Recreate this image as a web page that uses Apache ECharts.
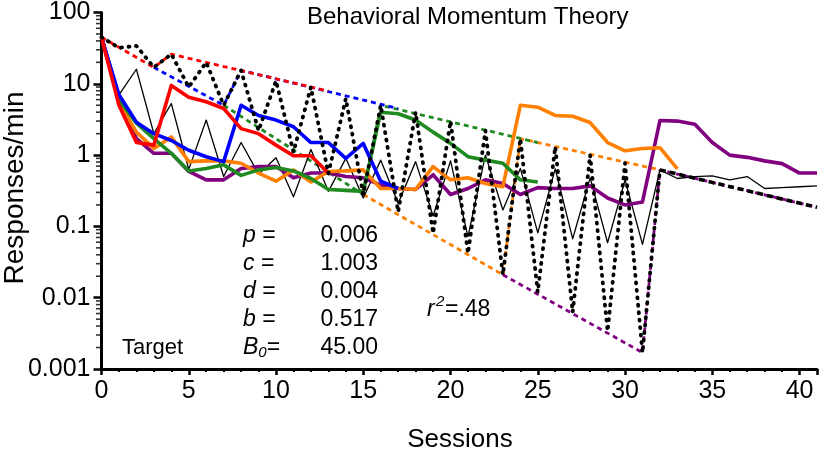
<!DOCTYPE html>
<html><head><meta charset="utf-8">
<script src="https://cdn.jsdelivr.net/npm/echarts@6/dist/echarts.min.js"></script>
<style>html,body{margin:0;padding:0;background:#fff}#c{width:820px;height:453px}</style>
</head><body><div id="c"></div>
<script>
// ---- data (index = session) ----
const xTickLabels = ['0','5','10','15','20','25','30','35','40'];
const yTickLabels = ['0.001','0.01','0.1','1','10','100'];
const yMinorTickValues = [0.002,0.003,0.004,0.005,0.006,0.007,0.008,0.009,
  0.02,0.03,0.04,0.05,0.06,0.07,0.08,0.09,0.2,0.3,0.4,0.5,0.6,0.7,0.8,0.9,
  2,3,4,5,6,7,8,9,20,30,40,50,60,70,80,90];

const redValues = [45,5.0,1.5,1.38,9.5,6.5,5.6,4.5,2.35,2.0,1.38,0.98,0.98,0.56];
const blueValues = [45,7.0,2.9,2.0,1.6,1.17,0.95,0.81,5.0,3.6,3.1,2.5,1.5,1.5,0.9,1.46,0.43,0.34];
const greenValues = [45,6.0,2.8,1.7,1.06,0.6,0.65,0.73,0.52,0.62,0.67,0.6,0.47,0.33,0.32,0.31,
  4.0,3.8,3.1,2.1,1.46,0.95,0.85,0.77,0.45,0.42];
const orangeValues = [45,5.5,2.1,1.24,1.8,0.81,0.83,0.83,0.77,0.56,0.43,0.62,0.42,0.59,0.6,0.62,
  0.34,0.34,0.33,0.69,0.45,0.48,0.40,0.36,5.0,4.7,3.6,3.5,2.86,1.5,1.15,1.24,1.27,0.64];
const purpleValues = [45,6.5,1.7,1.06,1.06,0.59,0.45,0.45,0.65,0.69,0.69,0.48,0.56,0.56,0.5,0.48,
  0.38,0.34,0.33,0.53,0.28,0.34,0.45,0.40,0.28,0.35,0.34,0.34,0.37,0.25,0.2,0.22,
  3.05,3.0,2.7,1.5,1.0,0.93,0.83,0.76,0.56,0.56];
const targetValues = [45,7.0,16,2.0,5.3,0.63,3.1,0.5,1.5,0.54,0.92,0.26,1.2,0.31,0.9,0.25,0.85,0.21,
  0.81,0.14,0.83,0.072,1.0,0.17,0.65,0.081,0.64,0.067,0.48,0.059,0.45,0.056,
  0.62,0.47,0.5,0.51,0.45,0.5,0.34,0.35,0.36,0.37];
const modelValues = [45,32,34,17,26,9,20,5,15.4,2.2,11,1.1,9,0.55,6.2,0.28,5,0.16,4,0.08,3,0.042,
  2.2,0.021,1.7,0.012,1.31,0.0063,1.0,0.0034,0.77,0.0017,0.62];
const modelTailSessions = [32,41];
const modelTailValues = [0.62,0.185];

// envelope lines (session, value)
const redEnvSessions = [0,3,4,13];      const redEnvValues = [45,17,26,7.9];
const blueEnvSessions = [3,7,8,17];     const blueEnvValues = [17,5,15.4,4.5];
const greenEnvSessions = [7,15,16,25];  const greenEnvValues = [5,0.28,5,1.5];
const orangeEnvSessions = [15,23,24,32];const orangeEnvValues = [0.28,0.021,1.7,0.62];
const purpleEnvSessions = [23,31,32,41];const purpleEnvValues = [0.021,0.0017,0.62,0.185];

const paramLabels = ['{i|p} =','{i|c} =','{i|d} =','{i|b} =','{i|B}{sub|0}='];
const paramValues = ['0.006','1.003','0.004','0.517','45.00'];

// ---- build ----
const FONT = '"Liberation Sans", Arial, Helvetica, sans-serif';
const C = {red:'#ff0000', blue:'#0000ff', green:'#1f8a1f', orange:'#ff8000', purple:'#800080'};
const seq = arr => arr.map((v,i)=>[i,v]);
const pairs = (s,v) => s.map((x,i)=>[x,v[i]]);

function solid(name, vals, color, w){
  return {name, type:'line', data:seq(vals), symbol:'none', animation:false,
    lineStyle:{color, width:w, join:'round'}};
}
function env(name, s, v, color){
  return {name, type:'line', data:pairs(s,v), symbol:'none', animation:false,
    lineStyle:{color, width:2.8, type:[5,4]}};
}

const series = [
  env('purpleEnv', purpleEnvSessions, purpleEnvValues, C.purple),
  env('orangeEnv', orangeEnvSessions, orangeEnvValues, C.orange),
  env('greenEnv', greenEnvSessions, greenEnvValues, C.green),
  env('blueEnv', blueEnvSessions, blueEnvValues, C.blue),
  env('redEnv', redEnvSessions, redEnvValues, C.red),
  solid('target', targetValues, '#000', 1.3),
  solid('purple', purpleValues, C.purple, 3.6),
  solid('orange', orangeValues, C.orange, 3.6),
  solid('green', greenValues, C.green, 3.6),
  solid('blue', blueValues, C.blue, 3.6),
  solid('red', redValues, C.red, 3.6),
  {name:'model', type:'line', data:seq(modelValues), symbol:'none', animation:false,
    lineStyle:{color:'#000', width:3.8, type:[1,6.5], cap:'round', join:'round'}},
  {name:'modelTail', type:'line', data:pairs(modelTailSessions, modelTailValues), symbol:'none', animation:false,
    lineStyle:{color:'#000', width:3.6, type:[6,4]}},
  {name:'yMinor', type:'scatter', data:yMinorTickValues.map(v=>[0,v]), symbol:'rect',
    symbolSize:[5,1.6], symbolOffset:[-3,0], clip:false, silent:true, animation:false,
    itemStyle:{color:'#000'}, z:10}
];

const graphic = [
  {type:'text', left:307, top:5, style:{text:'Behavioral Momentum Theory', font:'24px '+FONT, fill:'#000'}},
  {type:'text', x:460, y:440, style:{text:'Sessions', font:'26px '+FONT, fill:'#000', align:'center', verticalAlign:'middle'}},
  {type:'text', x:15, y:188, rotation:Math.PI/2, style:{text:'Responses/min', font:'28px '+FONT, fill:'#000', align:'center', verticalAlign:'middle'}},
  {type:'text', x:122, y:348, style:{text:'Target', font:'22px '+FONT, fill:'#000', verticalAlign:'middle'}},
  {type:'text', x:427, y:310, style:{text:'r', font:'italic 23px '+FONT, fill:'#000', verticalAlign:'middle'}},
  {type:'text', x:436, y:302, style:{text:'2', font:'italic 15px '+FONT, fill:'#000', verticalAlign:'middle'}},
  {type:'text', x:445, y:310, style:{text:'=.48', font:'23px '+FONT, fill:'#000', verticalAlign:'middle'}}
];
paramLabels.forEach((t,i)=>{
  graphic.push({type:'text', x:243, y:236+i*28, style:{text:t, font:'23px '+FONT, fill:'#000', verticalAlign:'middle',
    rich:{i:{fontStyle:'italic', fontSize:23, fontFamily:FONT}, sub:{fontStyle:'italic', fontSize:15, fontFamily:FONT, verticalAlign:'bottom', padding:[10,0,0,0]}}}});
  graphic.push({type:'text', x:378, y:236+i*28, style:{text:paramValues[i], font:'23px '+FONT, fill:'#000', align:'right', verticalAlign:'middle'}});
});

const option = {
  animation:false,
  backgroundColor:'#fff',
  grid:{left:101.5, right:3, top:10, bottom:84},
  xAxis:{type:'value', min:0, max:41, interval:5,
    axisLine:{lineStyle:{color:'#000', width:3}},
    axisTick:{length:6, lineStyle:{color:'#000', width:2.5}},
    minorTick:{show:true, splitNumber:5, length:3, lineStyle:{color:'#000', width:2}},
    splitLine:{show:false}, showMaxLabel:false,
    axisLabel:{color:'#000', fontSize:25, fontFamily:FONT, margin:10,
      formatter:v=>{const i=v/5; return Number.isInteger(i)&&xTickLabels[i]!==undefined?xTickLabels[i]:'';}}},
  yAxis:{type:'log', logBase:10, min:0.001, max:100,
    axisLine:{show:true, lineStyle:{color:'#000', width:3}},
    axisTick:{show:true, length:8, lineStyle:{color:'#000', width:2.5}},
    minorTick:{show:false}, splitLine:{show:false},
    axisLabel:{color:'#000', fontSize:25, fontFamily:FONT, margin:11,
      formatter:v=>{const i=Math.round(Math.log10(v))+3; return yTickLabels[i]||'';}}},
  series, graphic
};
const chart = echarts.init(document.getElementById('c'), null, {renderer:'canvas'});
chart.setOption(option);
</script></body></html>
